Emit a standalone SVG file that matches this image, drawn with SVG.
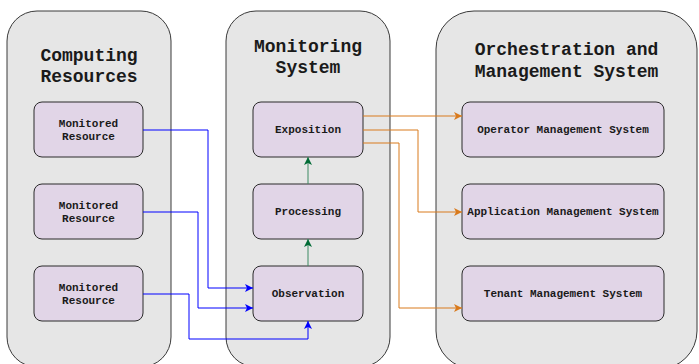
<svg xmlns="http://www.w3.org/2000/svg" width="699" height="364" viewBox="0 0 699 364">
  <style>
    .container { fill: #e6e6e6; stroke: #3a3a3a; stroke-width: 1; }
    .node { fill: #e1d5e7; stroke: #2b2b2b; stroke-width: 1; }
    .title { font-family: "Liberation Mono", "Courier New", monospace; font-size: 18px; font-weight: bold; fill: #1a1a1a; text-anchor: middle; }
    .label { font-family: "Liberation Mono", "Courier New", monospace; font-size: 11px; font-weight: bold; fill: #1a1a1a; text-anchor: middle; }
    .wire { fill: none; stroke-width: 1; }
    .blue { stroke: #0000ff; }
    .orange { stroke: #d97a1c; }
    .green { stroke: #3d8a62; }
  </style>
  <defs>
    <marker id="arrow-blue" markerUnits="userSpaceOnUse" markerWidth="9" markerHeight="9" refX="8" refY="4" orient="auto">
      <path d="M0,0 L8,4 L0,8 L2,4 z" fill="#0000ff"/>
    </marker>
    <marker id="arrow-orange" markerUnits="userSpaceOnUse" markerWidth="9" markerHeight="9" refX="8" refY="4" orient="auto">
      <path d="M0,0 L8,4 L0,8 L2,4 z" fill="#d97a1c"/>
    </marker>
    <marker id="arrow-green" markerUnits="userSpaceOnUse" markerWidth="9" markerHeight="9" refX="8" refY="4" orient="auto">
      <path d="M0,0 L8,4 L0,8 L2,4 z" fill="#006b35"/>
    </marker>
  </defs>

  <!-- Containers -->
  <g id="computing-resources">
    <rect class="container" x="7" y="11" width="164" height="356" rx="30" ry="30"/>
    <text class="title" x="89" y="61">Computing</text>
    <text class="title" x="89" y="82">Resources</text>
  </g>
  <g id="monitoring-system">
    <rect class="container" x="226" y="11" width="164" height="356" rx="30" ry="30"/>
    <text class="title" x="308" y="52">Monitoring</text>
    <text class="title" x="308" y="73">System</text>
  </g>
  <g id="orchestration-management">
    <rect class="container" x="436" y="11" width="261" height="358" rx="38" ry="38"/>
    <text class="title" x="566.5" y="55">Orchestration and</text>
    <text class="title" x="566.5" y="77">Management System</text>
  </g>

  <!-- Monitored resources -->
  <g id="resource-1">
    <rect class="node" x="34" y="102" width="109" height="55" rx="8" ry="8"/>
    <text class="label" x="88.5" y="127">Monitored</text>
    <text class="label" x="88.5" y="139.5">Resource</text>
  </g>
  <g id="resource-2">
    <rect class="node" x="34" y="184" width="109" height="55" rx="8" ry="8"/>
    <text class="label" x="88.5" y="209">Monitored</text>
    <text class="label" x="88.5" y="221.5">Resource</text>
  </g>
  <g id="resource-3">
    <rect class="node" x="34" y="266" width="109" height="55" rx="8" ry="8"/>
    <text class="label" x="88.5" y="291">Monitored</text>
    <text class="label" x="88.5" y="303.5">Resource</text>
  </g>

  <!-- Monitoring pipeline -->
  <g id="exposition">
    <rect class="node" x="253" y="102" width="110" height="55" rx="8" ry="8"/>
    <text class="label" x="308" y="133">Exposition</text>
  </g>
  <g id="processing">
    <rect class="node" x="253" y="184" width="110" height="55" rx="8" ry="8"/>
    <text class="label" x="308" y="215">Processing</text>
  </g>
  <g id="observation">
    <rect class="node" x="253" y="266" width="110" height="55" rx="8" ry="8"/>
    <text class="label" x="308" y="297">Observation</text>
  </g>

  <!-- Management systems -->
  <g id="operator-management">
    <rect class="node" x="462" y="102" width="202" height="55" rx="8" ry="8"/>
    <text class="label" x="563" y="133">Operator Management System</text>
  </g>
  <g id="application-management">
    <rect class="node" x="462" y="184" width="202" height="55" rx="8" ry="8"/>
    <text class="label" x="563" y="215">Application Management System</text>
  </g>
  <g id="tenant-management">
    <rect class="node" x="462" y="266" width="202" height="55" rx="8" ry="8"/>
    <text class="label" x="563" y="297">Tenant Management System</text>
  </g>

  <!-- Connectors -->
  <g id="connectors">
    <path class="wire blue" d="M143,130 H208 V288 H253" marker-end="url(#arrow-blue)"/>
    <path class="wire blue" d="M143,212 H198 V308 H253" marker-end="url(#arrow-blue)"/>
    <path class="wire blue" d="M143,294 H189 V339 H308 V321" marker-end="url(#arrow-blue)"/>
    <path class="wire green" d="M308,266 V239" marker-end="url(#arrow-green)"/>
    <path class="wire green" d="M308,184 V157" marker-end="url(#arrow-green)"/>
    <path class="wire orange" d="M363,116 H462" marker-end="url(#arrow-orange)"/>
    <path class="wire orange" d="M363,130 H418 V212 H462" marker-end="url(#arrow-orange)"/>
    <path class="wire orange" d="M363,143 H399 V308 H462" marker-end="url(#arrow-orange)"/>
  </g>
</svg>
